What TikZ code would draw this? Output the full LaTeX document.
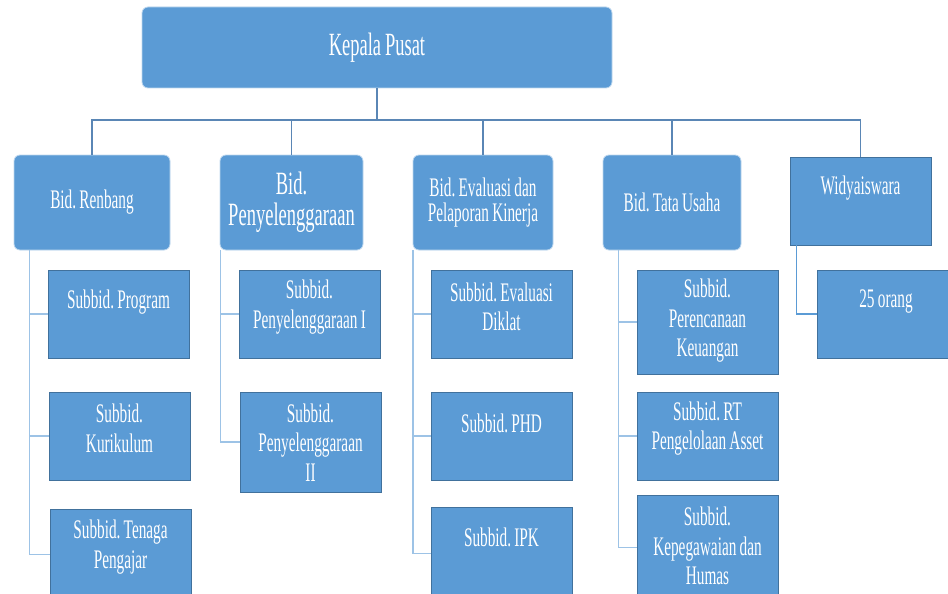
\documentclass[tikz,border=0pt]{standalone}
\usepackage{fontspec}
\setmainfont[FakeStretch=0.57,WordSpace=0.85]{Liberation Serif}
\frenchspacing
\definecolor{boxblue}{HTML}{5B9BD5}
\definecolor{edgeblue}{HTML}{41719C}
\definecolor{topline}{HTML}{5A86B5}
\definecolor{subline}{HTML}{9DC3E6}
\begin{document}
\begin{tikzpicture}[x=1pt,y=-1pt,
  rbox/.style={rectangle,rounded corners=6pt,fill=boxblue,draw=white!60!boxblue,line width=0.8pt,inner sep=0pt,text=white,align=center},
  sbox/.style={rectangle,fill=boxblue,draw=edgeblue,line width=0.9pt,inner sep=0pt,text=white,align=center},
  txt/.style={text=white,align=center,inner sep=0pt,font=\fontsize{26.8}{29.5}\selectfont},
  topconn/.style={draw=topline,line width=1.4pt},
  subconn/.style={draw=subline,line width=1.5pt},
  midconn/.style={draw=boxblue,line width=1.4pt}]
\useasboundingbox (0,0) rectangle (948,594);
% level 1
\node[rbox,minimum width=470pt,minimum height=81pt,font=\fontsize{32.4}{31}\selectfont] (kp) at (377,47.5) {Kepala Pusat};
% level 2
\node[rbox,minimum width=156pt,minimum height=95pt,font=\fontsize{26.8}{29.5}\selectfont] (ren) at (92,202.5) {Bid. Renbang};
\node[rbox,minimum width=143pt,minimum height=95pt,font=\fontsize{32.5}{31}\selectfont] (pen) at (291.5,202.5) {Bid.\\Penyelenggaraan};
\node[rbox,minimum width=140pt,minimum height=95pt,font=\fontsize{26.8}{25.5}\selectfont] (eva) at (483,202.5) {Bid. Evaluasi dan\\Pelaporan Kinerja};
\node[rbox,minimum width=138pt,minimum height=95pt,font=\fontsize{26.8}{29.5}\selectfont] (tu) at (672,202.5) {Bid. Tata Usaha};
\node[sbox,minimum width=141pt,minimum height=88pt] (wid) at (860.5,201) {};
\node[txt] (twid) at (860.5,188) {Widyaiswara};
% level 3 boxes
\node[sbox,minimum width=141pt,minimum height=88pt] (prog) at (118.5,314) {};
\node[sbox,minimum width=141pt,minimum height=88pt] (kur) at (119.5,436) {};
\node[sbox,minimum width=141pt,minimum height=91pt] (ten) at (120.5,554.5) {};
\node[sbox,minimum width=141pt,minimum height=88pt] (pen1) at (309.5,314) {};
\node[sbox,minimum width=141pt,minimum height=100pt] (pen2) at (310.5,442) {};
\node[sbox,minimum width=141pt,minimum height=88pt] (evd) at (501.5,314) {};
\node[sbox,minimum width=141pt,minimum height=88pt] (phd) at (501.5,436) {};
\node[sbox,minimum width=141pt,minimum height=93pt] (ipk) at (501.5,553.5) {};
\node[sbox,minimum width=141pt,minimum height=104pt] (pk) at (707.5,322) {};
\node[sbox,minimum width=141pt,minimum height=88pt] (rt) at (707.5,436) {};
\node[sbox,minimum width=141pt,minimum height=105pt] (kh) at (707.5,547.5) {};
\node[sbox,minimum width=143pt,minimum height=88pt] (org) at (888.5,314) {};
% level 3 texts
\node[txt] (tprog) at (118.5,302) {Subbid. Program};
\node[txt] (tkur) at (119.5,428.5) {Subbid.\\Kurikulum};
\node[txt] (tten) at (120.5,547) {Subbid. Tenaga\\Pengajar};
\node[txt] (tpen1) at (309.5,307) {Subbid.\\Penyelenggaraan I};
\node[txt] (tpen2) at (310.5,442.5) {Subbid.\\Penyelenggaraan\\II};
\node[txt] (tevd) at (501.5,307) {Subbid. Evaluasi\\Diklat};
\node[txt] (tphd) at (501.5,423) {Subbid. PHD};
\node[txt] (tipk) at (501.5,537) {Subbid. IPK};
\node[txt] (tpk) at (707.5,321) {Subbid.\\Perencanaan\\Keuangan};
\node[txt] (trt) at (707.5,428.5) {Subbid. RT\\Pengelolaan Asset};
\node[txt] (tkh) at (707.5,546) {Subbid.\\Kepegawaian dan\\Humas};
\node[txt] (torg) at (886,302) {25 orang};
% top connectors
\coordinate (bus) at (377,120);
\draw[topconn] (kp.south) -- (bus);
\draw[topconn] (ren.north) |- (bus) -| (wid.north);
\draw[topconn] (pen.north) -- (pen.north |- bus);
\draw[topconn] (eva.north) -- (eva.north |- bus);
\draw[topconn] (tu.north) -- (tu.north |- bus);
% sub connectors
\coordinate (rv) at ([xshift=16pt]ren.south west);
\draw[subconn] (rv) |- (ten.west);
\draw[subconn] (prog.west) -- (prog.west -| rv);
\draw[subconn] (kur.west) -- (kur.west -| rv);
\coordinate (pv) at ([xshift=1pt]pen.south west);
\draw[subconn] (pv) |- (pen2.west);
\draw[subconn] (pen1.west) -- (pen1.west -| pv);
\coordinate (ev) at ([xshift=0.5pt]eva.south west);
\draw[subconn] (ev) |- (ipk.west);
\draw[subconn] (evd.west) -- (evd.west -| ev);
\draw[subconn] (phd.west) -- (phd.west -| ev);
\coordinate (tv) at ([xshift=16pt]tu.south west);
\draw[subconn] (tv) |- (kh.west);
\draw[subconn] (pk.west) -- (pk.west -| tv);
\draw[subconn] (rt.west) -- (rt.west -| tv);
\coordinate (wv) at ([xshift=7pt]wid.south west);
\draw[midconn] (wv) |- (org.west);
\end{tikzpicture}
\end{document}
